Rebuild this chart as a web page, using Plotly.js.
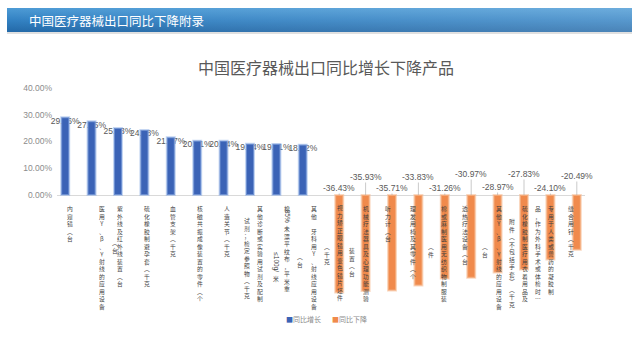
<!DOCTYPE html>
<html><head><meta charset="utf-8">
<script src="https://cdn.plot.ly/plotly-3.0.1.min.js"></script>
<style>html,body{margin:0;padding:0;background:#fff}#chart{width:640px;height:353px}</style>
</head><body><div id="chart"></div>
<script>
// ---------- data ----------
const categories = [
  "内窥镜（台）",
  "医用Y、β、γ射线的应用设备（台）",
  "紫外线及红外线装置（台）",
  "硫化橡胶制避孕套（千克）",
  "血管支架（千克）",
  "核磁共振成像装置的零件（个）",
  "人造关节（千克）",
  "其他诊断或实验用试剂及配制试剂；检定参照物（千克）",
  "棉85%未漂平纹布，平米重≤100g/米",
  "其他牙科用Y、射线应用设备（台）",
  "视力矫正眼镜用变色镜片坯件（千克）",
  "机械疗法器具及心理功能测验装置（台）",
  "听力计（台）",
  "理发用椅及其零件（个）",
  "棉或麻制医用无纺织物制服装（件）",
  "透热疗法设备（台）",
  "其他Y、β、γ射线的应用设备（台）",
  "硫化橡胶制医疗用衣着用品及附件（不包括手套）（千克）",
  "专用于人类或兽药的凝胶制品，作为外科手术或体检时…",
  "缝合用针（千克）"
];
// label text as it wraps in the picture (columns of vertical text)
const labelColumns = [
  ["内窥镜︵台"],
  ["医用Y、β、γ射线的应用设备", "︵台"],
  ["紫外线及红外线装置︵台"],
  ["硫化橡胶制避孕套︵千克"],
  ["血管支架︵千克"],
  ["核磁共振成像装置的零件︵个"],
  ["人造关节︵千克"],
  ["其他诊断或实验用试剂及配制", "试剂；检定参照物︵千克"],
  ["棉85%未漂平纹布，平米重", "≤100g/米"],
  ["其他　牙科用Y、射线应用设备", "︵台"],
  ["视力矫正眼镜用变色镜片坯件", "︵千克"],
  ["机械疗法器具及心理功能测验", "装置︵台"],
  ["听力计︵台"],
  ["理发用椅及其零件︵个"],
  ["棉或麻制医用无纺织物制服装", "︵件"],
  ["透热疗法设备︵台"],
  ["其他Y、β、γ射线的应用设备", "︵台"],
  ["硫化橡胶制医疗用衣着用品及", "附件︵不包括手套︶︵千克"],
  ["专用于人类或兽药的凝胶制", "品，作为外科手术或体检时…"],
  ["缝合用针︵千克"]
];
const growthValues  = [29.06, 27.55, 25.03, 24.28, 21.57, 20.31, 20.24, 19.14, 19.11, 18.82];
const declineValues = [-36.43, -35.93, -35.71, -33.83, -31.26, -30.97, -28.97, -27.83, -24.10, -20.49];
const yTickValues = [0, 10, 20, 30, 40];
const seriesNames = ["同比增长", "同比下降"];
const chartTitle = "中国医疗器械出口同比增长下降产品";
const bannerTitle = "中国医疗器械出口同比下降附录";

// ---------- layout / style (positions in px) ----------
const W = 640, H = 353;
const M = {l: 57, r: 55, t: 88, b: 51};
const nCat = categories.length;
const pw = W - M.l - M.r, ph = H - M.t - M.b;
const pxPerCat = pw / nCat;
const bargap = 0.242, bargroupgap = 0.2;
const offCat = (1 - bargap) / 4;          // centre offset of each group member, in category units
const offPx = offCat * pxPerCat;
// label column placement: [dx px from category centre, top px below zero line]
const labelColPos = [
  [[0, 8]],
  [[5.3, 8], [18.6, 42]],
  [[-2.8, 8]],
  [[-2.5, 8]],
  [[-2.6, 8]],
  [[-2, 8]],
  [[-1.7, 8]],
  [[5.2, 8], [-8.1, 20]],
  [[5.5, 8], [-5.5, 56]],
  [[6.4, 8], [-7.6, 56]],
  [[6, 7], [-7, 46]],
  [[5.6, 8], [-8.7, 50]],
  [[0.5, 8]],
  [[-0.5, 8]],
  [[4.4, 8], [-8.9, 46]],
  [[-1.7, 8]],
  [[5.9, 8], [-8.1, 46]],
  [[6.2, 8], [-7.1, 21]],
  [[5.5, 8], [-7.9, 8]],
  [[-0.9, 8]]
];
const declineLabelLift = [7, 18, 7, 18, 7, 21, 8, 21, 7, 19];
const labelFontSize = 5.8, lineH = labelFontSize * 1.3;

const CJK = '"Noto Sans CJK SC", "Noto Sans", sans-serif';
const NUM = '"Liberation Sans Narrow", "Liberation Sans", Arial, sans-serif';
const blue = '#3b63b6', orange = '#f08a4c';

const idx = categories.map((_, i) => i);
const growthFull = idx.map(i => i < growthValues.length ? growthValues[i] : null);
const declineFull = idx.map(i => i >= growthValues.length ? declineValues[i - growthValues.length] : null);
const fmt = v => v.toFixed(2) + '%';

// traces
const growthText = {
  type: 'scatter', mode: 'text',
  x: growthValues.map((v, i) => i - offCat), y: growthValues,
  text: growthValues.map(fmt), textposition: 'bottom center',
  textfont: {family: NUM, size: 8.5, color: '#595959'},
  showlegend: false, hoverinfo: 'skip', cliponaxis: false,
  xaxis: 'x', yaxis: 'y'
};
const growthBars = {
  type: 'bar', name: seriesNames[0], x: idx, y: growthFull,
  marker: {color: blue, line: {color: 'rgba(150,180,232,0.55)', width: 2}},
  xaxis: 'x2', yaxis: 'y2', hovertext: categories, hoverinfo: 'text+y'
};
const declineBars = {
  type: 'bar', name: seriesNames[1], x: idx, y: declineFull,
  marker: {color: orange, line: {color: 'rgba(246,190,150,0.6)', width: 2}},
  xaxis: 'x2', yaxis: 'y2', hovertext: categories, hoverinfo: 'text+y'
};

// annotations
const annotations = [];
// split a column into segments: stacked CJK lines, or a sideways run of Latin characters
function segments(s) {
  const parts = s.match(/[0-9A-Za-z%≤\/.]{2,}|[^0-9A-Za-z%≤\/.]+|[0-9A-Za-z%≤\/.]/gu) || [];
  const out = [];
  parts.forEach(p => {
    if (/^[0-9A-Za-z%≤\/.]{2,}$/.test(p)) out.push({rot: true, text: p});
    else {
      const last = out[out.length - 1];
      if (last && !last.rot) last.text += p; else out.push({rot: false, text: p});
    }
  });
  return out;
}
labelColumns.forEach((cols, i) => {
  cols.forEach((col, c) => {
    const [dx, top] = labelColPos[i][c];
    let cursor = top;
    segments(col).forEach(seg => {
      if (seg.rot) {
        const len = seg.text.length * 3.4 + 2;
        annotations.push({
          x: i, y: 0, xref: 'x', yref: 'y', xshift: dx, yshift: -(cursor + len / 2),
          text: seg.text, showarrow: false, xanchor: 'center', yanchor: 'middle', textangle: 90,
          borderpad: 0, font: {family: NUM, size: 6.5, color: '#3f3f3f'}
        });
        cursor += len;
      } else {
        const chars = Array.from(seg.text);
        annotations.push({
          x: i, y: 0, xref: 'x', yref: 'y', xshift: dx, yshift: -cursor,
          text: chars.join('<br>'), showarrow: false, xanchor: 'center', yanchor: 'top',
          align: 'center', borderpad: 0, font: {family: CJK, size: labelFontSize, color: '#3f3f3f'}
        });
        cursor += chars.length * lineH;
      }
    });
  });
});
declineValues.forEach((v, k) => {
  const i = growthValues.length + k;
  annotations.push({
    x: i, y: 0, xref: 'x', yref: 'y', xshift: offPx,
    text: fmt(v), showarrow: true, arrowhead: 0, arrowwidth: 0.6, arrowcolor: '#a6a6a6',
    ax: 0, ay: -declineLabelLift[k], standoff: 0, borderpad: 0,
    font: {family: NUM, size: 8.5, color: '#595959'}
  });
});
// banner text
annotations.push({
  xref: 'paper', yref: 'paper', x: (27 - M.l) / pw, y: (H - M.b - 20.5) / ph,
  xanchor: 'left', yanchor: 'middle', showarrow: false, text: bannerTitle,
  font: {family: CJK, size: 12.5, color: '#ffffff'}
});
// legend (compact, as in the picture)
[[285, blue], [331, orange]].forEach(([px, col], s) => {
  annotations.push({
    xref: 'paper', yref: 'paper', x: (px - M.l) / pw, y: (H - M.b - 319) / ph,
    xanchor: 'left', yanchor: 'middle', showarrow: false, borderpad: 0,
    text: '<span style="color:' + col + '">■</span>' + seriesNames[s],
    font: {family: CJK, size: 7, color: '#8c8c8c'}
  });
});

const bannerSvg = "<svg xmlns='http://www.w3.org/2000/svg' width='625' height='26' viewBox='0 0 625 26' preserveAspectRatio='none'>" +
  "<defs><linearGradient id='g' x1='0' y1='0' x2='0' y2='1'><stop offset='0' stop-color='#4d9bd5'/><stop offset='0.5' stop-color='#3382c3'/><stop offset='1' stop-color='#2369a8'/></linearGradient>" +
  "<linearGradient id='h' x1='0' y1='0' x2='1' y2='0'><stop offset='0' stop-color='#ffffff' stop-opacity='0'/><stop offset='1' stop-color='#ffffff' stop-opacity='0.18'/></linearGradient></defs>" +
  "<rect width='625' height='24' fill='url(#g)'/><rect width='625' height='24' fill='url(#h)'/>" +
  "<rect y='24' width='625' height='2' fill='#000' fill-opacity='0.12'/></svg>";

const layout = {
  width: W, height: H, margin: M,
  paper_bgcolor: '#ffffff', plot_bgcolor: '#ffffff',
  barmode: 'group', bargap: bargap, bargroupgap: bargroupgap,
  title: {text: chartTitle, x: 326 / W, xanchor: 'center', y: 1 - 68 / H, yanchor: 'middle',
          font: {family: CJK, size: 16, color: '#595959'}},
  xaxis: {range: [-0.5, nCat - 0.5], visible: false, fixedrange: true},
  xaxis2: {range: [-0.5, nCat - 0.5], overlaying: 'x', visible: false, fixedrange: true},
  yaxis: {range: [-40, 40], tickvals: yTickValues, ticktext: yTickValues.map(fmt),
          tickfont: {family: NUM, size: 8.5, color: '#8c8c8c'}, showgrid: false,
          zeroline: true, zerolinecolor: '#d9d9d9', zerolinewidth: 1, showline: false,
          ticks: '', ticklabelstandoff: 4, fixedrange: true},
  yaxis2: {range: [-40, 40], overlaying: 'y', visible: false, fixedrange: true},
  showlegend: false,
  images: [{source: 'data:image/svg+xml;charset=utf-8,' + encodeURIComponent(bannerSvg),
            xref: 'paper', yref: 'paper', x: (7 - M.l) / pw, y: (H - M.b - 8) / ph,
            sizex: 625 / pw, sizey: 26 / ph, sizing: 'stretch', xanchor: 'left', yanchor: 'top', layer: 'below'}],
  annotations: annotations
};

Plotly.newPlot('chart', [growthText, growthBars, declineBars], layout, {displayModeBar: false, staticPlot: true});
</script>
</body></html>
